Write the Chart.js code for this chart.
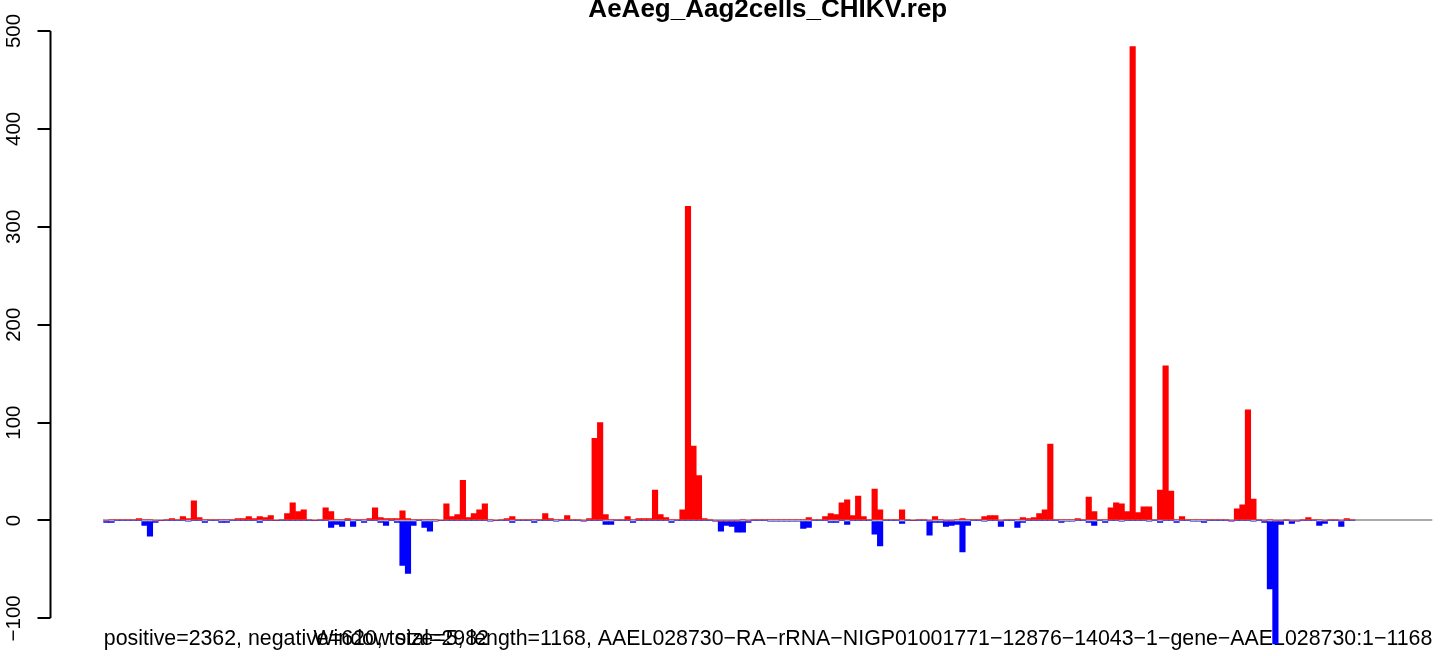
<!DOCTYPE html>
<html>
<head>
<meta charset="utf-8">
<script src="https://cdn.jsdelivr.net/npm/chart.js@4.4.1/dist/chart.umd.min.js"></script>
<style>
  html, body { margin: 0; padding: 0; background: #fff; }
  canvas { display: block; }
</style>
</head>
<body>
<canvas id="chart" width="1444" height="656"></canvas>
<script>
const chartTitle = "AeAeg_Aag2cells_CHIKV.rep";
const leftNote = "positive=2362, negative=620, total=2982";
const rightNote = "Window size=5, length=1168, AAEL028730\u2212RA\u2212rRNA\u2212NIGP01001771\u221212876\u221214043\u22121\u2212gene\u2212AAEL028730:1\u22121168";

// one value per 5-nt window
const positive = [
  0, 1, 1, 1, 1, 1, 2, 1, 1, 0,
  0, 1, 2, 1, 4, 2, 20, 3, 1, 1,
  1, 1, 1, 1, 2, 2, 4, 2, 4, 3,
  5, 0, 1, 7, 18, 9, 11, 1, 0, 1,
  13, 9, 1, 1, 2, 1, 1, 1, 2, 13,
  3, 2, 2, 2, 10, 2, 1, 1, 1, 1,
  1, 0, 17, 4, 6, 41, 3, 7, 11, 17,
  1, 0, 1, 2, 4, 1, 1, 1, 1, 1,
  7, 2, 1, 1, 5, 1, 1, 0, 2, 84,
  100, 6, 1, 1, 1, 4, 1, 2, 2, 2,
  31, 6, 3, 1, 1, 11, 321, 76, 46, 2,
  1, 0, 0, 0, 0, 0, 1, 0, 1, 1,
  1, 1, 1, 1, 1, 1, 1, 1, 3, 1,
  1, 4, 7, 6, 18, 21, 5, 25, 4, 1,
  32, 11, 1, 1, 1, 11, 1, 0, 1, 1,
  0, 4, 1, 0, 0, 1, 2, 1, 1, 1,
  4, 5, 5, 0, 1, 1, 1, 3, 2, 3,
  7, 11, 78, 1, 1, 1, 1, 2, 1, 24,
  9, 1, 1, 13, 18, 17, 9, 484, 8, 14,
  14, 1, 31, 158, 30, 1, 4, 1, 1, 1,
  1, 1, 1, 1, 1, 0, 12, 16, 113, 22,
  1, 0, 1, 0, 0, 1, 0, 0, 1, 3,
  1, 1, 0, 1, 1, 0, 2, 1
];
const negative = [
  -2, -2, 0, 0, 0, 0, 0, -5, -16, -2,
  0, 0, 0, 0, 0, -1, 0, 0, -2, 0,
  0, -2, -2, 0, 0, 0, 0, 0, -2, 0,
  0, 0, 0, 0, 0, 0, 0, 0, 0, 0,
  0, -7, -4, -6, 0, -6, 0, -2, 0, 0,
  -2, -5, 0, -2, -46, -54, -5, 0, -7, -11,
  -1, 0, 0, 0, 0, 0, 0, 0, 0, 0,
  -1, 0, 0, 0, -2, 0, 0, 0, -2, 0,
  0, 0, -1, 0, 0, 0, 0, -1, 0, 0,
  0, -4, -4, 0, 0, 0, -2, 0, 0, 0,
  0, 0, 0, -2, 0, 0, 0, 0, 0, 0,
  0, -1, -11, -5, -6, -12, -12, -2, 0, 0,
  0, -1, -1, -1, -1, -1, -1, -8, -7, 0,
  0, 0, -2, -2, 0, -4, 0, 0, 0, 0,
  -14, -26, 0, 0, 0, -3, 0, 0, 0, 0,
  -15, -2, -2, -6, -5, -4, -32, -5, 0, 0,
  -1, 0, 0, -6, 0, 0, -7, -2, 0, 0,
  0, 0, 0, 0, -2, -1, -1, 0, 0, -2,
  -5, 0, -2, 0, 0, -1, 0, 0, 0, 0,
  -1, 0, -2, 0, 0, -2, 0, 0, -1, -1,
  -2, 0, 0, 0, 0, -1, 0, 0, 0, -1,
  0, -2, -70, -126, -4, 0, -3, -1, 0, 0,
  0, -5, -3, 0, 0, -6, 0, 0
];
const yTicks = [-100, 0, 100, 200, 300, 400, 500];

const FONT = "'Liberation Sans', Arial, Helvetica, sans-serif";

// R style axis: line only between first and last tick, set off to the left
const rAxis = {
  id: 'rAxis',
  afterDraw(chart) {
    const ctx = chart.ctx;
    const y = chart.scales.y;
    const ax = 50.5;
    const top = Math.round(y.getPixelForValue(yTicks[yTicks.length - 1]));
    const bot = Math.round(y.getPixelForValue(yTicks[0]));
    ctx.save();
    ctx.strokeStyle = '#000';
    ctx.lineWidth = 2;
    ctx.beginPath();
    ctx.moveTo(ax, top);
    ctx.lineTo(ax, bot);
    yTicks.forEach(v => {
      const p = Math.round(y.getPixelForValue(v));
      ctx.moveTo(ax, p);
      ctx.lineTo(37.5, p);
    });
    ctx.stroke();
    ctx.restore();
  }
};

// the two notes under the bars (drawn before the bars, which run over them)
const notes = {
  id: 'notes',
  beforeDatasetsDraw(chart) {
    const { ctx, chartArea } = chart;
    ctx.save();
    ctx.fillStyle = '#000';
    ctx.font = '21.35px ' + FONT;
    ctx.textBaseline = 'alphabetic';
    ctx.textAlign = 'left';
    ctx.fillText(leftNote, chartArea.left + 0.5, 645);
    ctx.textAlign = 'right';
    ctx.fillText(rightNote, chartArea.right, 645);
    ctx.restore();
  }
};

const barOpts = { borderWidth: 0, grouped: false, barPercentage: 1, categoryPercentage: 1 };

new Chart(document.getElementById('chart'), {
  type: 'bar',
  data: {
    datasets: [
      Object.assign({ data: positive.map((v, i) => ({ x: i, y: v })), backgroundColor: '#ff0000' }, barOpts),
      Object.assign({ data: negative.map((v, i) => ({ x: i, y: v })), backgroundColor: '#0000ff' }, barOpts)
    ]
  },
  options: {
    responsive: false,
    animation: false,
    devicePixelRatio: 1,
    layout: { padding: { left: 0, right: 11.7, top: 0, bottom: 0.4 } },
    plugins: {
      legend: { display: false },
      tooltip: { enabled: false },
      title: {
        display: true,
        text: chartTitle,
        fullSize: false,
        color: '#000',
        font: { family: FONT, size: 26, weight: 'bold', lineHeight: 0.75 },
        padding: { top: 0, bottom: 1.7 }
      }
    },
    scales: {
      x: {
        type: 'linear',
        min: -0.5,
        max: 241.58,
        offset: false,
        display: false,
        afterBuildTicks: s => { s.ticks = []; }
      },
      y: {
        min: -138,
        max: 510,
        afterBuildTicks: s => { s.ticks = yTicks.map(v => ({ value: v })); },
        afterFit: s => {
          s.width = 103.3;
          s.paddingTop = 0;
          s.paddingBottom = 0;
        },
        border: { display: false },
        grid: {
          drawTicks: false,
          lineWidth: 2,
          color: c => (c.tick && c.tick.value === 0) ? '#aaaaaa' : 'rgba(0,0,0,0)'
        },
        ticks: {
          color: '#000',
          font: { family: FONT, size: 20.5 },
          minRotation: 90,
          maxRotation: 90,
          crossAlign: 'center',
          padding: 66.3,
          autoSkip: false,
          callback: v => v < 0 ? '\u2212' + Math.abs(v) : String(v)
        }
      }
    }
  },
  plugins: [rAxis, notes]
});
</script>
</body>
</html>
